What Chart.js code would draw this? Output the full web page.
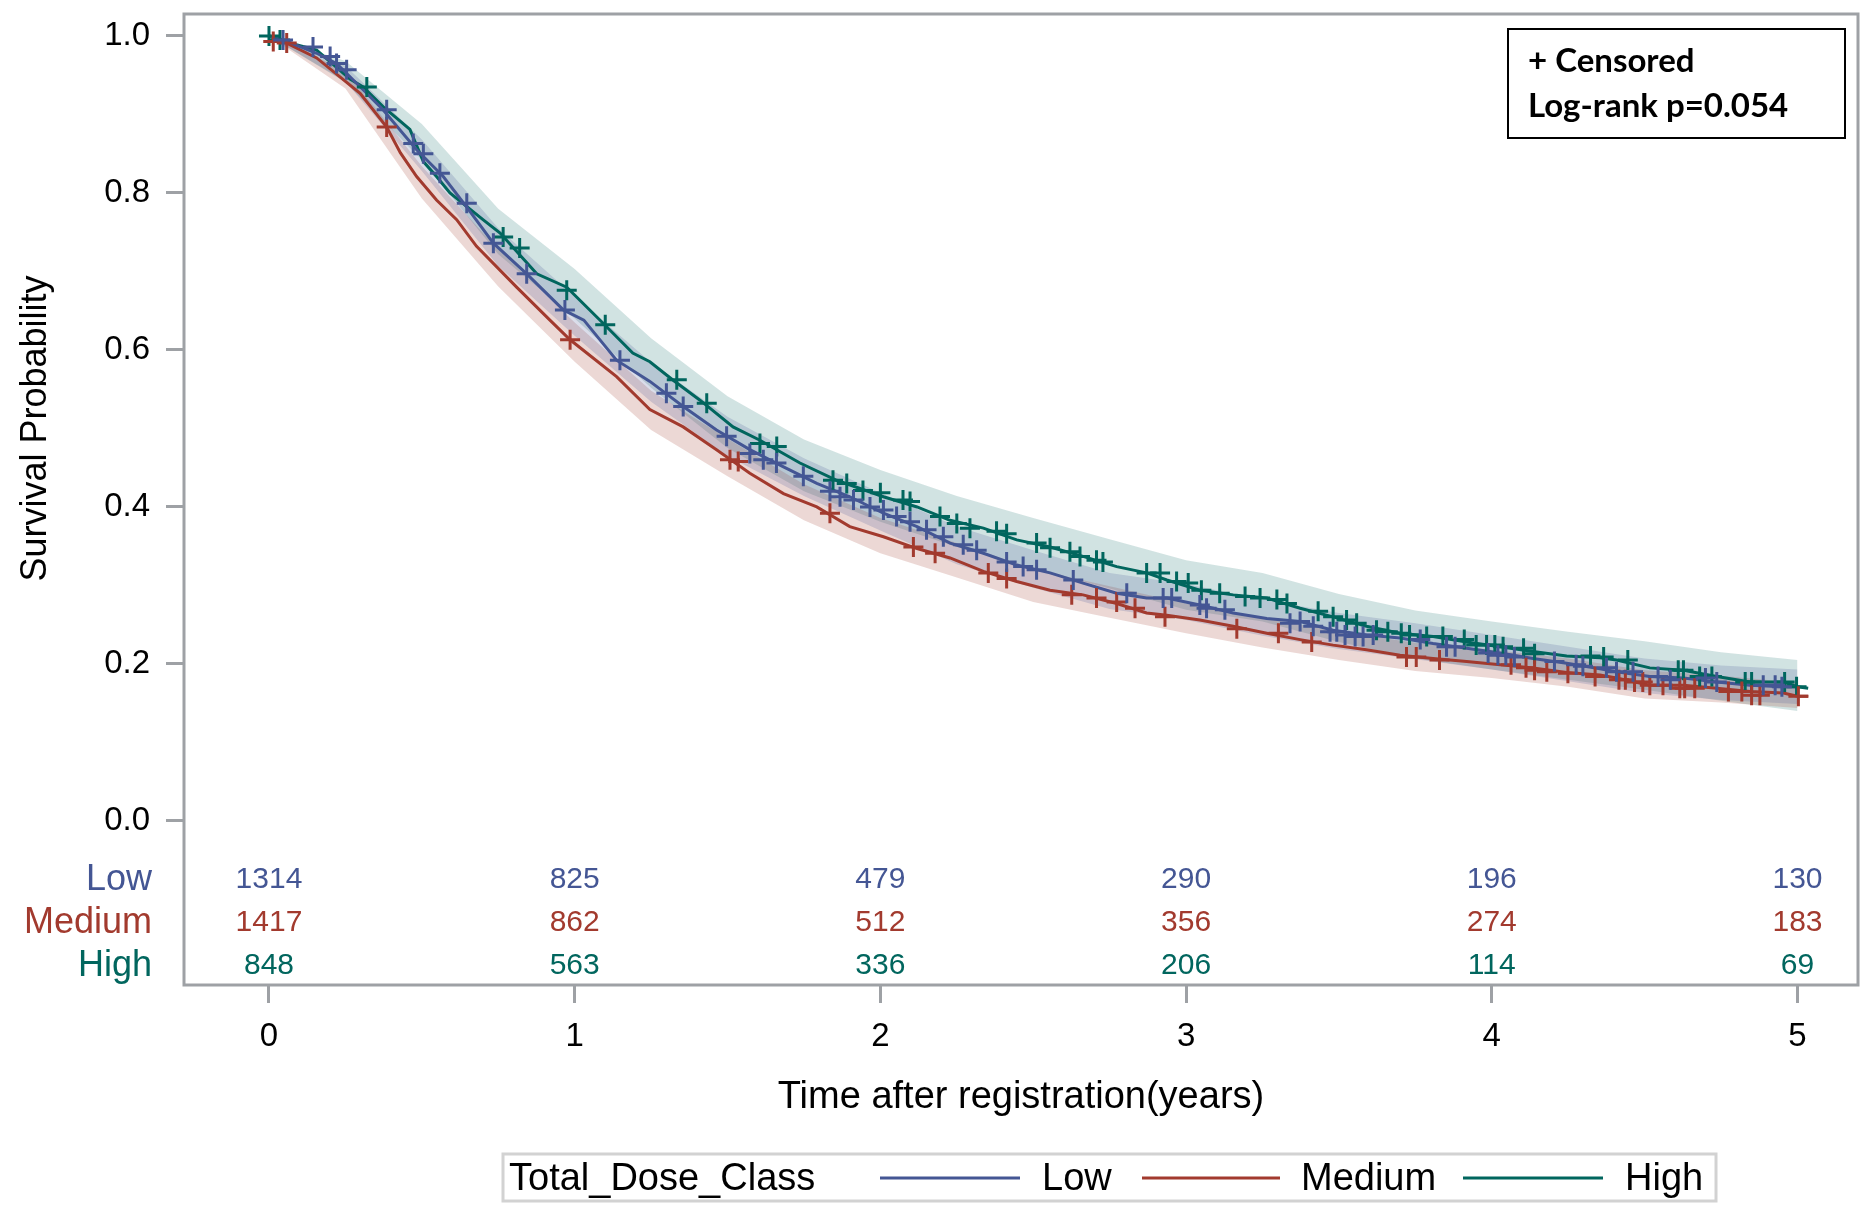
<!DOCTYPE html>
<html>
<head>
<meta charset="utf-8">
<script src="https://cdn.jsdelivr.net/npm/chart.js@4.4.1/dist/chart.umd.min.js"></script>
<style>
  html, body { margin: 0; padding: 0; background: #fff; }
  #km { display: block; }
</style>
</head>
<body>
<canvas id="km" width="1865" height="1210"></canvas>
<script>
// survival curves (time in years, survival probability)
const lowT = [0, 0.046, 0.156, 0.221, 0.265, 0.373, 0.483, 0.57, 0.647, 0.734, 0.843, 0.963, 1.03, 1.137, 1.246, 1.355, 1.464, 1.573, 1.683, 1.792, 1.90, 2.01, 2.12, 2.228, 2.337, 2.446, 2.555, 2.663, 2.773, 2.871, 2.937, 3.045, 3.154, 3.264, 3.373, 3.481, 3.59, 3.70, 3.808, 3.918, 4.027, 4.135, 4.245, 4.354, 4.408, 4.517, 4.627, 4.736, 4.845, 4.95, 5.0];
const lowS = [1.0, 0.995, 0.978, 0.965, 0.948, 0.906, 0.855, 0.821, 0.782, 0.736, 0.697, 0.651, 0.638, 0.587, 0.560, 0.528, 0.498, 0.473, 0.451, 0.430, 0.413, 0.392, 0.375, 0.354, 0.341, 0.326, 0.316, 0.303, 0.290, 0.284, 0.284, 0.275, 0.265, 0.258, 0.254, 0.243, 0.237, 0.233, 0.226, 0.220, 0.214, 0.207, 0.201, 0.194, 0.190, 0.184, 0.182, 0.177, 0.173, 0.171, 0.171];

const medT = [0, 0.058, 0.156, 0.298, 0.385, 0.43, 0.483, 0.548, 0.614, 0.679, 0.81, 0.919, 0.985, 1.137, 1.246, 1.355, 1.464, 1.573, 1.683, 1.792, 1.90, 2.01, 2.12, 2.228, 2.337, 2.446, 2.555, 2.663, 2.773, 2.871, 2.937, 3.045, 3.154, 3.264, 3.373, 3.481, 3.59, 3.70, 3.808, 3.918, 4.027, 4.135, 4.245, 4.354, 4.408, 4.517, 4.627, 4.736, 4.845, 4.954, 5.0, 5.035];
const medS = [1.0, 0.991, 0.972, 0.927, 0.884, 0.851, 0.821, 0.791, 0.766, 0.732, 0.68, 0.638, 0.613, 0.566, 0.524, 0.502, 0.473, 0.443, 0.417, 0.40, 0.375, 0.362, 0.347, 0.335, 0.318, 0.305, 0.294, 0.288, 0.277, 0.265, 0.262, 0.256, 0.248, 0.239, 0.231, 0.224, 0.218, 0.211, 0.207, 0.203, 0.199, 0.195, 0.189, 0.186, 0.182, 0.173, 0.173, 0.169, 0.165, 0.163, 0.159, 0.159];

const highT = [0, 0.08, 0.156, 0.265, 0.308, 0.373, 0.461, 0.505, 0.548, 0.592, 0.70, 0.756, 0.876, 0.974, 1.093, 1.19, 1.246, 1.32, 1.41, 1.518, 1.606, 1.737, 1.857, 2.01, 2.12, 2.228, 2.337, 2.446, 2.555, 2.663, 2.773, 2.871, 2.937, 3.045, 3.154, 3.264, 3.373, 3.481, 3.59, 3.70, 3.808, 3.918, 4.027, 4.135, 4.245, 4.354, 4.408, 4.517, 4.627, 4.736, 4.845, 4.954, 5.0, 5.035];
const highS = [1.0, 0.99, 0.982, 0.945, 0.935, 0.91, 0.881, 0.84, 0.821, 0.80, 0.766, 0.749, 0.697, 0.680, 0.634, 0.596, 0.585, 0.562, 0.536, 0.502, 0.485, 0.456, 0.434, 0.413, 0.40, 0.383, 0.373, 0.358, 0.349, 0.337, 0.324, 0.316, 0.307, 0.294, 0.288, 0.284, 0.271, 0.260, 0.248, 0.239, 0.235, 0.228, 0.222, 0.216, 0.210, 0.208, 0.205, 0.195, 0.192, 0.184, 0.177, 0.177, 0.171, 0.169];

// confidence bands, read at a coarser grid
const bandT = [0, 0.25, 0.5, 0.75, 1.0, 1.25, 1.5, 1.75, 2.0, 2.25, 2.5, 2.75, 3.0, 3.25, 3.5, 3.75, 4.0, 4.25, 4.5, 4.75, 5.0];
const lowUp  = [1.0, 0.962, 0.868, 0.755, 0.668, 0.584, 0.515, 0.462, 0.418, 0.375, 0.345, 0.316, 0.302, 0.282, 0.265, 0.252, 0.237, 0.222, 0.207, 0.198, 0.193];
const lowLo  = [1.0, 0.942, 0.828, 0.707, 0.618, 0.534, 0.465, 0.414, 0.370, 0.327, 0.297, 0.270, 0.256, 0.236, 0.219, 0.206, 0.193, 0.178, 0.163, 0.154, 0.149];
const medUp  = [1.0, 0.956, 0.834, 0.728, 0.635, 0.548, 0.487, 0.429, 0.386, 0.354, 0.321, 0.299, 0.277, 0.259, 0.241, 0.227, 0.218, 0.207, 0.192, 0.185, 0.176];
const medLo  = [1.0, 0.933, 0.793, 0.681, 0.585, 0.498, 0.439, 0.383, 0.341, 0.310, 0.279, 0.259, 0.239, 0.221, 0.205, 0.191, 0.182, 0.171, 0.156, 0.151, 0.144];
const highUp = [1.0, 0.968, 0.888, 0.780, 0.703, 0.615, 0.541, 0.486, 0.447, 0.414, 0.386, 0.359, 0.332, 0.316, 0.289, 0.268, 0.254, 0.241, 0.229, 0.215, 0.205];
const highLo = [1.0, 0.941, 0.842, 0.722, 0.640, 0.552, 0.475, 0.420, 0.381, 0.349, 0.322, 0.296, 0.269, 0.254, 0.228, 0.207, 0.193, 0.180, 0.167, 0.153, 0.140];

// censored observations [time, survival]
const lowCens = [[0.046,0.995],[0.144,0.986],[0.2,0.974],[0.221,0.965],[0.254,0.957],[0.385,0.906],[0.472,0.863],[0.505,0.85],[0.559,0.825],[0.647,0.787],[0.734,0.736],[0.843,0.697],[0.968,0.651],[1.148,0.587],[1.30,0.545],[1.355,0.528],[1.497,0.49],[1.573,0.468],[1.617,0.46],[1.66,0.456],[1.748,0.439],[1.835,0.42],[1.868,0.413],[1.912,0.409],[1.966,0.40],[2.01,0.396],[2.053,0.388],[2.097,0.381],[2.151,0.371],[2.206,0.362],[2.271,0.352],[2.315,0.345],[2.413,0.33],[2.467,0.324],[2.511,0.32],[2.631,0.307],[2.806,0.29],[2.925,0.284],[2.953,0.284],[3.045,0.275],[3.067,0.271],[3.127,0.269],[3.34,0.252],[3.373,0.254],[3.416,0.248],[3.471,0.241],[3.493,0.241],[3.52,0.237],[3.553,0.235],[3.579,0.235],[3.612,0.237],[3.766,0.231],[3.852,0.222],[3.88,0.222],[3.988,0.214],[4.02,0.211],[4.046,0.211],[4.074,0.209],[4.205,0.203],[4.276,0.199],[4.298,0.197],[4.375,0.195],[4.408,0.19],[4.462,0.19],[4.544,0.184],[4.584,0.18],[4.699,0.182],[4.736,0.177],[4.888,0.173],[4.927,0.173],[4.949,0.171]];
const medCens = [[0.014,0.993],[0.058,0.991],[0.385,0.884],[0.985,0.613],[1.508,0.46],[1.535,0.458],[1.835,0.392],[2.108,0.349],[2.179,0.341],[2.353,0.316],[2.413,0.309],[2.626,0.288],[2.707,0.284],[2.773,0.279],[2.833,0.271],[2.931,0.26],[3.166,0.245],[3.302,0.239],[3.411,0.228],[3.721,0.209],[3.753,0.209],[3.829,0.205],[4.063,0.199],[4.112,0.195],[4.14,0.192],[4.18,0.19],[4.249,0.188],[4.338,0.184],[4.416,0.18],[4.437,0.18],[4.467,0.177],[4.494,0.177],[4.517,0.173],[4.56,0.173],[4.615,0.169],[4.631,0.169],[4.664,0.169],[4.774,0.165],[4.818,0.165],[4.85,0.16],[4.877,0.16],[5.003,0.159]];
const highCens = [[0.0,1.0],[0.036,0.995],[0.32,0.935],[0.766,0.744],[0.82,0.73],[0.974,0.676],[1.10,0.632],[1.334,0.562],[1.432,0.532],[1.606,0.481],[1.661,0.477],[1.845,0.434],[1.89,0.43],[1.943,0.421],[2.0,0.418],[2.074,0.409],[2.097,0.407],[2.195,0.388],[2.25,0.379],[2.293,0.373],[2.38,0.369],[2.413,0.366],[2.511,0.354],[2.555,0.348],[2.62,0.343],[2.653,0.337],[2.707,0.332],[2.728,0.33],[2.871,0.316],[2.915,0.316],[2.969,0.305],[3.007,0.303],[3.05,0.294],[3.11,0.29],[3.193,0.286],[3.242,0.284],[3.297,0.282],[3.33,0.277],[3.432,0.267],[3.481,0.26],[3.525,0.256],[3.558,0.252],[3.623,0.243],[3.66,0.241],[3.704,0.239],[3.731,0.237],[3.787,0.235],[3.84,0.235],[3.91,0.231],[3.949,0.224],[3.983,0.224],[4.01,0.224],[4.037,0.222],[4.104,0.22],[4.14,0.213],[4.323,0.21],[4.366,0.209],[4.445,0.205],[4.61,0.192],[4.627,0.192],[4.68,0.184],[4.72,0.184],[4.829,0.177],[4.85,0.177],[4.958,0.177],[4.997,0.171]];

// number at risk table
const riskTimes = [0, 1, 2, 3, 4, 5];
const lowRisk = [1314, 825, 479, 290, 196, 130];
const medRisk = [1417, 862, 512, 356, 274, 183];
const highRisk = [848, 563, 336, 206, 114, 69];

const xTicks = [0, 1, 2, 3, 4, 5];
const yTicks = [0, 0.2, 0.4, 0.6, 0.8, 1.0];

const BLUE = '#445694', RED = '#A23A2E', GREEN = '#01665E';
const FRAME = '#9ea1a5';
const FONT = '"Liberation Sans", Arial, sans-serif';

const groups = [
  { name: 'Low', color: BLUE, band: 'rgba(68,86,148,0.20)', t: lowT, s: lowS, up: lowUp, lo: lowLo, cens: lowCens, risk: lowRisk },
  { name: 'Medium', color: RED, band: 'rgba(162,58,46,0.20)', t: medT, s: medS, up: medUp, lo: medLo, cens: medCens, risk: medRisk },
  { name: 'High', color: GREEN, band: 'rgba(1,102,94,0.18)', t: highT, s: highS, up: highUp, lo: highLo, cens: highCens, risk: highRisk }
];

const pts = (ts, vs) => ts.map((t, i) => ({ x: t, y: vs[i] }));

const datasets = [];
groups.forEach(g => {
  datasets.push({ data: pts(bandT, g.lo), borderWidth: 0, pointRadius: 0, fill: false, order: 3 });
  datasets.push({ data: pts(bandT, g.up), borderWidth: 0, pointRadius: 0, fill: '-1', backgroundColor: g.band, order: 3 });
});
groups.forEach(g => {
  datasets.push({ label: g.name, data: pts(g.t, g.s), borderColor: g.color, borderWidth: 3, pointRadius: 0, fill: false, tension: 0, order: 2 });
});
groups.forEach(g => {
  datasets.push({ data: g.cens.map(c => ({ x: c[0], y: c[1] })), showLine: false, pointStyle: 'cross', pointRadius: 10, pointBorderWidth: 3, borderColor: g.color, pointBorderColor: g.color, order: 1 });
});

const decor = {
  id: 'decor',
  afterDraw(chart) {
    const { ctx, chartArea: a, scales: { x, y } } = chart;
    ctx.save();
    ctx.strokeStyle = FRAME;
    ctx.lineWidth = 3;
    ctx.strokeRect(a.left, a.top, a.right - a.left, a.bottom - a.top);

    // y axis title
    ctx.save();
    ctx.translate(36, y.getPixelForValue(0.5));
    ctx.rotate(-Math.PI / 2);
    ctx.fillStyle = '#000';
    ctx.font = '36px ' + FONT;
    ctx.textAlign = 'center';
    ctx.textBaseline = 'middle';
    ctx.fillText('Survival Probability', 0, 0);
    ctx.restore();

    // at-risk rows
    const rowOff = [105, 62, 19];
    ctx.textBaseline = 'middle';
    groups.forEach((g, r) => {
      const ry = a.bottom - rowOff[r];
      ctx.fillStyle = g.color;
      ctx.font = '36px ' + FONT;
      ctx.textAlign = 'right';
      ctx.fillText(g.name, 152, ry);
      ctx.font = '30px ' + FONT;
      ctx.textAlign = 'center';
      riskTimes.forEach((t, i) => ctx.fillText(String(g.risk[i]), x.getPixelForValue(t), ry));
    });

    // inset box
    ctx.strokeStyle = '#000';
    ctx.lineWidth = 2;
    ctx.strokeRect(1508, 29, 337, 109);
    ctx.fillStyle = '#000';
    ctx.font = 'bold 33px Lato, "Open Sans", sans-serif';
    ctx.textAlign = 'left';
    ctx.fillText('+ Censored', 1528, 61);
    ctx.fillText('Log-rank p=0.054', 1528, 106);

    // bottom legend
    ctx.strokeStyle = '#d2d2d2';
    ctx.lineWidth = 3;
    ctx.strokeRect(503, 1154, 1213, 47);
    ctx.font = '38px ' + FONT;
    ctx.fillStyle = '#000';
    ctx.fillText('Total_Dose_Class', 509, 1180);
    const items = [[880, 1020, 1042], [1142, 1280, 1301], [1463, 1603, 1625]];
    groups.forEach((g, i) => {
      const it = items[i];
      ctx.strokeStyle = g.color;
      ctx.lineWidth = 3;
      ctx.beginPath();
      ctx.moveTo(it[0], 1178);
      ctx.lineTo(it[1], 1178);
      ctx.stroke();
      ctx.fillStyle = '#000';
      ctx.fillText(g.name, it[2], 1180);
    });
    ctx.restore();
  }
};

new Chart(document.getElementById('km'), {
  type: 'line',
  data: { datasets },
  plugins: [decor],
  options: {
    responsive: false,
    animation: false,
    layout: { autoPadding: false, padding: { top: 14, right: 7, bottom: 90, left: 0 } },
    plugins: { legend: { display: false }, tooltip: { enabled: false } },
    scales: {
      x: {
        type: 'linear',
        min: -0.278,
        max: 5.198,
        afterBuildTicks: s => { s.ticks = xTicks.map(v => ({ value: v })); },
        afterFit: s => { s.height = 135; s.paddingLeft = 0; s.paddingRight = 0; },
        grid: { drawOnChartArea: false, drawTicks: true, tickLength: 18, tickColor: FRAME, tickWidth: 3 },
        border: { display: false },
        ticks: { color: '#000', font: { family: FONT, size: 33 }, padding: 14, maxRotation: 0, callback: v => String(v) },
        title: { display: true, text: 'Time after registration(years)', color: '#000', font: { family: FONT, size: 38, lineHeight: 1.2 }, padding: { top: 0, bottom: 0 } }
      },
      y: {
        type: 'linear',
        min: -0.209,
        max: 1.028,
        afterBuildTicks: s => { s.ticks = yTicks.map(v => ({ value: v })); },
        afterFit: s => { s.width = 184; s.paddingTop = 0; s.paddingBottom = 0; },
        grid: { drawOnChartArea: false, drawTicks: true, tickLength: 18, tickColor: FRAME, tickWidth: 3 },
        border: { display: false },
        ticks: { color: '#000', font: { family: FONT, size: 33 }, padding: 16, callback: v => v.toFixed(1) }
      }
    }
  }
});
</script>
</body>
</html>
